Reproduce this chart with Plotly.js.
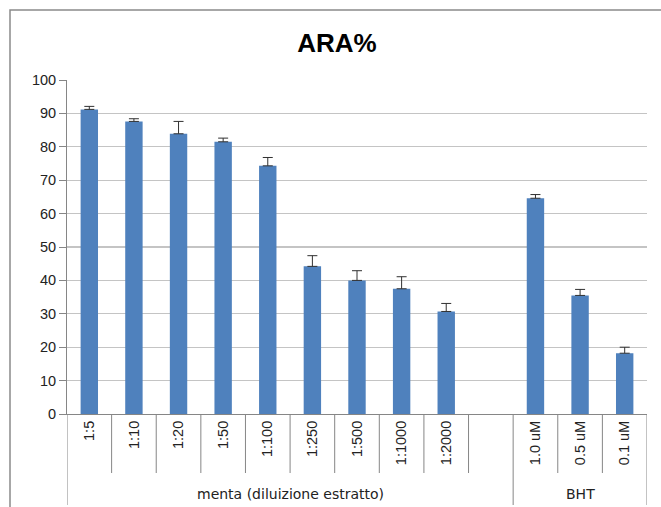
<!DOCTYPE html>
<html>
<head>
<meta charset="utf-8">
<script src="https://cdn.plot.ly/plotly-3.0.1.min.js"></script>
<style>html,body{margin:0;padding:0;background:#fff;}#chart{width:661px;height:507px;}</style>
</head>
<body>
<div id="chart"></div>
<script>
// Data
var categories = ["1:5","1:10","1:20","1:50","1:100","1:250","1:500","1:1000","1:2000"," ","1.0 uM","0.5 uM","0.1 uM"];
var values     = [91.2, 87.6, 83.9, 81.5, 74.3, 44.2, 40.0, 37.5, 30.7, null, 64.6, 35.5, 18.2];
var errorsPlus = [0.9, 0.8, 3.7, 1.1, 2.5, 3.2, 2.9, 3.6, 2.4, null, 1.1, 1.8, 1.8];
var groupNames = ["menta (diluizione estratto)", "BHT"];
var groupSpans = [[0, 9], [10, 12]]; // category index ranges for each group
var chartTitle = "ARA%";
var yTicks = [0,10,20,30,40,50,60,70,80,90,100];

var FONT = "Liberation Sans, Arial, sans-serif";
var GROUP_FONT = "DejaVu Sans, sans-serif";
var AXIS_GRAY = "#868686";

var trace = {
  type: "bar",
  x: categories,
  y: values,
  marker: {color: "#4F81BD", line: {width: 0}},
  error_y: {
    type: "data",
    symmetric: false,
    array: errorsPlus,
    arrayminus: errorsPlus.map(function(){return 0;}),
    color: "#303030",
    thickness: 1,
    width: 5
  },
  hoverinfo: "x+y"
};

// Divider lines below the category axis
var shapes = [];
var shortY = -59/334, longY = -91/334;
var longIdx = {};
groupSpans.forEach(function(s){ longIdx[s[0]-0.5] = true; longIdx[s[1]+0.5] = true; });
for (var i = 0; i <= categories.length; i++) {
  var bx = i - 0.5;
  shapes.push({type:"line", xref:"x", yref:"paper", x0:bx, x1:bx, y0:0, y1: longIdx[bx] ? longY : shortY,
               line:{color:AXIS_GRAY, width:1}});
}
// outer frame
shapes.push({type:"rect", xref:"paper", yref:"paper", x0:-57/580, x1:1.5, y0:-0.6, y1:404/334,
             line:{color:"#8a8a8a", width:1.5}, fillcolor:"rgba(0,0,0,0)", layer:"below"});

var annotations = groupNames.map(function(name, k){
  var s = groupSpans[k];
  return {text:name, xref:"x", yref:"paper", x:(s[0]+s[1])/2, y:-80/334, showarrow:false,
          xanchor:"center", yanchor:"middle", font:{family:GROUP_FONT, size:14, color:"#222"}};
});

var layout = {
  width: 661, height: 507,
  margin: {l:67, r:14, t:80, b:93},
  paper_bgcolor: "#fff", plot_bgcolor: "#fff",
  title: {text: chartTitle, x: 337/661, xref:"container", xanchor:"center", y: 1-43/507, yref:"container", yanchor:"middle",
          font: {family: FONT, size: 26, color: "#000", weight: "bold"}},
  showlegend: false,
  bargap: 0.61,
  xaxis: {
    type: "category",
    categoryorder: "array", categoryarray: categories,
    tickangle: -90,
    ticks: "",
    showline: true, linecolor: AXIS_GRAY, linewidth: 1,
    showgrid: false, zeroline: false,
    tickfont: {family: FONT, size: 14.5, color: "#222"},
    range: [-0.5, categories.length - 0.5],
    fixedrange: true
  },
  yaxis: {
    range: [0, 100],
    tickvals: yTicks,
    ticks: "outside", ticklen: 7, tickcolor: AXIS_GRAY,
    showline: true, linecolor: AXIS_GRAY, linewidth: 1,
    showgrid: true, gridcolor: "#c4c4c4", gridwidth: 1.3,
    zeroline: false,
    tickfont: {family: FONT, size: 14.5, color: "#222"},
    fixedrange: true
  },
  shapes: shapes,
  annotations: annotations
};

Plotly.newPlot("chart", [trace], layout, {displayModeBar: false, staticPlot: true});
</script>
</body>
</html>
